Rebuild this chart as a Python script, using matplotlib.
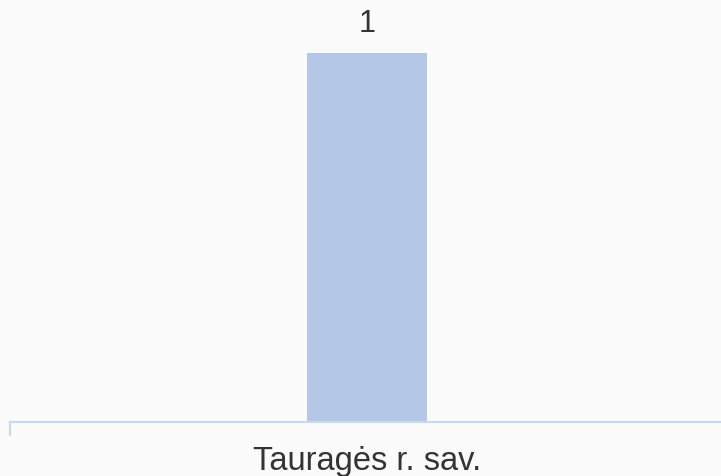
import matplotlib.pyplot as plt

categories = ['Tauragės r. sav.']
values = [1]

plt.rcParams['font.family'] = ['Liberation Sans', 'DejaVu Sans']

fig = plt.figure(figsize=(7.21, 4.77), dpi=100)
fig.patch.set_facecolor('#fbfbfb')

# axes run from the left tick to just past the right edge
ax = fig.add_axes([10 / 721, 1 - 423 / 477, 714 / 721, 423 / 477])
ax.set_facecolor('none')

x = list(range(len(categories)))
bars = ax.bar(x, values, width=0.168, color='#b4c7e7', zorder=2)
ax.set_xlim(-0.5, 0.5)
ax.set_ylim(0, 423 / (423 - 54))

for b, v in zip(bars, values):
    ax.text(b.get_x() + b.get_width() / 2, v + 0.04, str(v),
            ha='center', va='bottom', fontsize=22, color='#333333')

for s in ['top', 'right', 'left']:
    ax.spines[s].set_visible(False)
ax.spines['bottom'].set_color('#c6d9f1')
ax.spines['bottom'].set_linewidth(1.6)

ax.set_yticks([])
ax.set_xticks([-0.5])
ax.set_xticklabels([''])
ax.tick_params(axis='x', length=10, width=1.6, color='#c6d9f1')

for xi, c in zip(x, categories):
    ax.text(xi, -0.062, c, ha='center', va='top', fontsize=23.5, color='#333333')

fig.savefig('out.png', dpi=100, facecolor=fig.get_facecolor())
